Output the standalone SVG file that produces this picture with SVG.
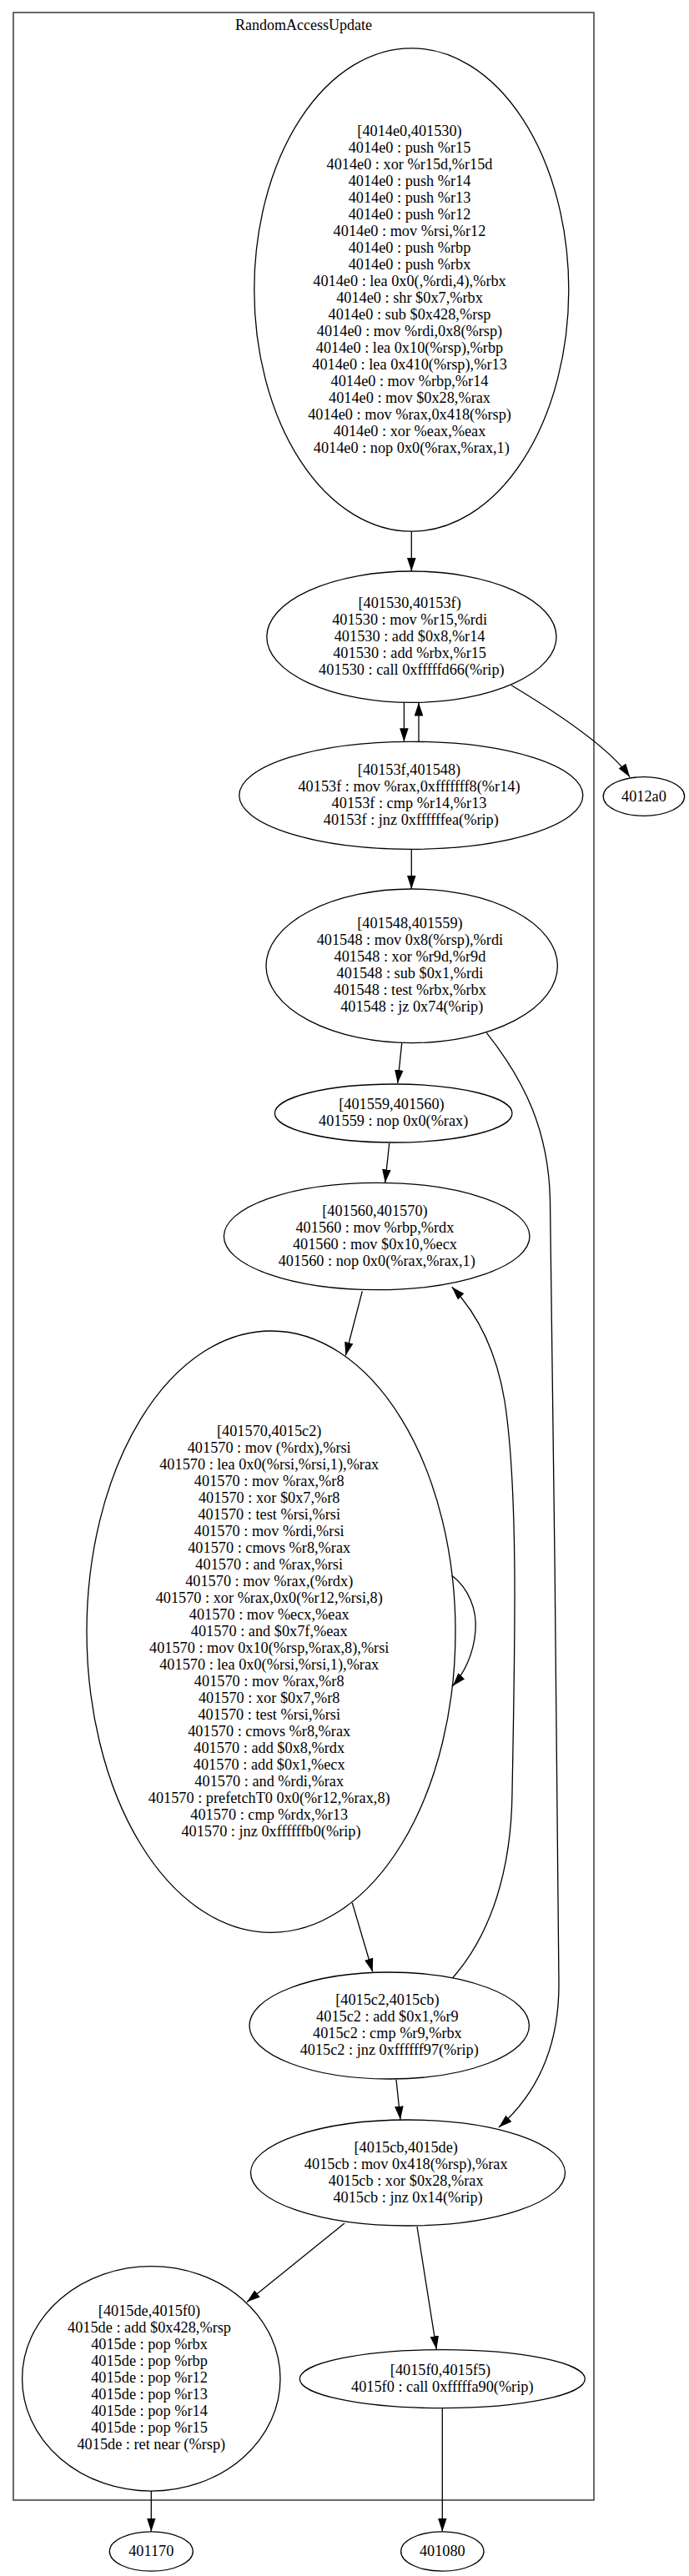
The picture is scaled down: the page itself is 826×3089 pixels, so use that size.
<svg xmlns="http://www.w3.org/2000/svg" width="826" height="3089" viewBox="0 0 826 3089">
<style>
.n ellipse{fill:none;stroke:#000;stroke-width:1.3}
.t{font-family:"Liberation Serif","Times New Roman",serif;font-size:18.3px;text-anchor:middle;fill:#000}
.e path{fill:none;stroke:#000;stroke-width:1.3}
</style>
<defs>
<marker id="ah" viewBox="0 0 16 10.6" refX="16" refY="5.3" markerWidth="16" markerHeight="10.6" markerUnits="userSpaceOnUse" orient="auto">
<path d="M0,0 L16,5.3 L0,10.6 z" fill="#000"/>
</marker>
</defs>
<rect width="826" height="3089" fill="#fff"/>
<g id="cluster_RandomAccessUpdate">
<rect x="16" y="15" width="696" height="2983" fill="none" stroke="#444" stroke-width="1.6"/>
<text class="t" x="364" y="36" style="font-size:18px">RandomAccessUpdate</text>
</g>
<g id="edges" class="e">
<path d="M493.3,637.3 L493.3,685" marker-end="url(#ah)"/>
<path d="M484.4,842.3 L484.4,889.3" marker-end="url(#ah)"/>
<path d="M502,889.3 L502,842.5" marker-end="url(#ah)"/>
<path d="M613,821.7 C660,850 730,895 755,931.7" marker-end="url(#ah)"/>
<path d="M493.3,1018.3 L493.3,1066" marker-end="url(#ah)"/>
<path d="M481.7,1251 L476.7,1299" marker-end="url(#ah)"/>
<path d="M466.7,1371 L461.7,1418.3" marker-end="url(#ah)"/>
<path d="M434.3,1548.3 L414.3,1625.5" marker-end="url(#ah)"/>
<path d="M541.7,1889.3 C562,1905 572,1930 570,1955 C568,1985 555,2008 542.7,2021.7" marker-end="url(#ah)"/>
<path d="M422.3,2281.7 L446.7,2364.5" marker-end="url(#ah)"/>
<path d="M542.7,2371.7 C590,2318 613,2240 614,2150 C617,1980 622,1790 605,1680 C595,1620 572,1575 541.7,1543.3" marker-end="url(#ah)"/>
<path d="M583.3,1238.3 C628,1295 658,1355 659.5,1440 C662,1700 670,2150 670,2380 C670,2460 640,2514 598,2551" marker-end="url(#ah)"/>
<path d="M475,2493.7 L480,2541.7" marker-end="url(#ah)"/>
<path d="M413,2666 L296,2760.5" marker-end="url(#ah)"/>
<path d="M500,2670 L523.3,2817.2" marker-end="url(#ah)"/>
<path d="M181.3,2987 L181.3,3035.7" marker-end="url(#ah)"/>
<path d="M530.3,2888 L530.3,3035.7" marker-end="url(#ah)"/>
</g>
<g id="n4014e0" class="n">
<ellipse cx="493.3" cy="347.5" rx="188.5" ry="289.7"/>
<text class="t">
<tspan x="493.3" y="162.5">[4014e0,401530)</tspan>
<tspan x="493.3" y="182.5">4014e0 : push %r15</tspan>
<tspan x="493.3" y="202.5">4014e0 : xor %r15d,%r15d</tspan>
<tspan x="493.3" y="222.5">4014e0 : push %r14</tspan>
<tspan x="493.3" y="242.5">4014e0 : push %r13</tspan>
<tspan x="493.3" y="262.5">4014e0 : push %r12</tspan>
<tspan x="493.3" y="282.5">4014e0 : mov %rsi,%r12</tspan>
<tspan x="493.3" y="302.5">4014e0 : push %rbp</tspan>
<tspan x="493.3" y="322.5">4014e0 : push %rbx</tspan>
<tspan x="493.3" y="342.5">4014e0 : lea 0x0(,%rdi,4),%rbx</tspan>
<tspan x="493.3" y="362.5">4014e0 : shr $0x7,%rbx</tspan>
<tspan x="493.3" y="382.5">4014e0 : sub $0x428,%rsp</tspan>
<tspan x="493.3" y="402.5">4014e0 : mov %rdi,0x8(%rsp)</tspan>
<tspan x="493.3" y="422.5">4014e0 : lea 0x10(%rsp),%rbp</tspan>
<tspan x="493.3" y="442.5">4014e0 : lea 0x410(%rsp),%r13</tspan>
<tspan x="493.3" y="462.5">4014e0 : mov %rbp,%r14</tspan>
<tspan x="493.3" y="482.5">4014e0 : mov $0x28,%rax</tspan>
<tspan x="493.3" y="502.5">4014e0 : mov %rax,0x418(%rsp)</tspan>
<tspan x="493.3" y="522.5">4014e0 : xor %eax,%eax</tspan>
<tspan x="493.3" y="542.5">4014e0 : nop 0x0(%rax,%rax,1)</tspan>
</text>
</g>
<g id="n401530" class="n">
<ellipse cx="493.4" cy="763.7" rx="173.6" ry="78.7"/>
<text class="t">
<tspan x="493.4" y="728.7">[401530,40153f)</tspan>
<tspan x="493.4" y="748.7">401530 : mov %r15,%rdi</tspan>
<tspan x="493.4" y="768.7">401530 : add $0x8,%r14</tspan>
<tspan x="493.4" y="788.7">401530 : add %rbx,%r15</tspan>
<tspan x="493.4" y="808.7">401530 : call 0xfffffd66(%rip)</tspan>
</text>
</g>
<g id="n40153f" class="n">
<ellipse cx="492.8" cy="953.8" rx="206" ry="64.5"/>
<text class="t">
<tspan x="492.8" y="928.8">[40153f,401548)</tspan>
<tspan x="492.8" y="948.8">40153f : mov %rax,0xfffffff8(%r14)</tspan>
<tspan x="492.8" y="968.8">40153f : cmp %r14,%r13</tspan>
<tspan x="492.8" y="988.8">40153f : jnz 0xffffffea(%rip)</tspan>
</text>
</g>
<g id="n4012a0" class="n">
<ellipse cx="771.9" cy="955" rx="48.7" ry="23.3"/>
<text class="t" x="771.9" y="960.5">4012a0</text>
</g>
<g id="n401548" class="n">
<ellipse cx="493.7" cy="1158.3" rx="174.7" ry="92.3"/>
<text class="t">
<tspan x="493.7" y="1113.3">[401548,401559)</tspan>
<tspan x="493.7" y="1133.3">401548 : mov 0x8(%rsp),%rdi</tspan>
<tspan x="493.7" y="1153.3">401548 : xor %r9d,%r9d</tspan>
<tspan x="493.7" y="1173.3">401548 : sub $0x1,%rdi</tspan>
<tspan x="493.7" y="1193.3">401548 : test %rbx,%rbx</tspan>
<tspan x="493.7" y="1213.3">401548 : jz 0x74(%rip)</tspan>
</text>
</g>
<g id="n401559" class="n">
<ellipse cx="471.7" cy="1335" rx="142.3" ry="35"/>
<text class="t">
<tspan x="471.7" y="1330">[401559,401560)</tspan>
<tspan x="471.7" y="1350">401559 : nop 0x0(%rax)</tspan>
</text>
</g>
<g id="n401560" class="n">
<ellipse cx="451.7" cy="1482.5" rx="183.3" ry="64.2"/>
<text class="t">
<tspan x="451.7" y="1457.5">[401560,401570)</tspan>
<tspan x="451.7" y="1477.5">401560 : mov %rbp,%rdx</tspan>
<tspan x="451.7" y="1497.5">401560 : mov $0x10,%ecx</tspan>
<tspan x="451.7" y="1517.5">401560 : nop 0x0(%rax,%rax,1)</tspan>
</text>
</g>
<g id="n401570" class="n">
<ellipse cx="325" cy="1956.7" rx="221" ry="360.7"/>
<text class="t">
<tspan x="325" y="1721.7">[401570,4015c2)</tspan>
<tspan x="325" y="1741.7">401570 : mov (%rdx),%rsi</tspan>
<tspan x="325" y="1761.7">401570 : lea 0x0(%rsi,%rsi,1),%rax</tspan>
<tspan x="325" y="1781.7">401570 : mov %rax,%r8</tspan>
<tspan x="325" y="1801.7">401570 : xor $0x7,%r8</tspan>
<tspan x="325" y="1821.7">401570 : test %rsi,%rsi</tspan>
<tspan x="325" y="1841.7">401570 : mov %rdi,%rsi</tspan>
<tspan x="325" y="1861.7">401570 : cmovs %r8,%rax</tspan>
<tspan x="325" y="1881.7">401570 : and %rax,%rsi</tspan>
<tspan x="325" y="1901.7">401570 : mov %rax,(%rdx)</tspan>
<tspan x="325" y="1921.7">401570 : xor %rax,0x0(%r12,%rsi,8)</tspan>
<tspan x="325" y="1941.7">401570 : mov %ecx,%eax</tspan>
<tspan x="325" y="1961.7">401570 : and $0x7f,%eax</tspan>
<tspan x="325" y="1981.7">401570 : mov 0x10(%rsp,%rax,8),%rsi</tspan>
<tspan x="325" y="2001.7">401570 : lea 0x0(%rsi,%rsi,1),%rax</tspan>
<tspan x="325" y="2021.7">401570 : mov %rax,%r8</tspan>
<tspan x="325" y="2041.7">401570 : xor $0x7,%r8</tspan>
<tspan x="325" y="2061.7">401570 : test %rsi,%rsi</tspan>
<tspan x="325" y="2081.7">401570 : cmovs %r8,%rax</tspan>
<tspan x="325" y="2101.7">401570 : add $0x8,%rdx</tspan>
<tspan x="325" y="2121.7">401570 : add $0x1,%ecx</tspan>
<tspan x="325" y="2141.7">401570 : and %rdi,%rax</tspan>
<tspan x="325" y="2161.7">401570 : prefetchT0 0x0(%r12,%rax,8)</tspan>
<tspan x="325" y="2181.7">401570 : cmp %rdx,%r13</tspan>
<tspan x="325" y="2201.7">401570 : jnz 0xffffffb0(%rip)</tspan>
</text>
</g>
<g id="n4015c2" class="n">
<ellipse cx="466.7" cy="2429" rx="167.7" ry="64"/>
<text class="t">
<tspan x="466.7" y="2404">[4015c2,4015cb)</tspan>
<tspan x="466.7" y="2424">4015c2 : add $0x1,%r9</tspan>
<tspan x="466.7" y="2444">4015c2 : cmp %r9,%rbx</tspan>
<tspan x="466.7" y="2464">4015c2 : jnz 0xffffff97(%rip)</tspan>
</text>
</g>
<g id="n4015cb" class="n">
<ellipse cx="489" cy="2605.5" rx="188.5" ry="63.5"/>
<text class="t">
<tspan x="489" y="2580.5">[4015cb,4015de)</tspan>
<tspan x="489" y="2600.5">4015cb : mov 0x418(%rsp),%rax</tspan>
<tspan x="489" y="2620.5">4015cb : xor $0x28,%rax</tspan>
<tspan x="489" y="2640.5">4015cb : jnz 0x14(%rip)</tspan>
</text>
</g>
<g id="n4015de" class="n">
<ellipse cx="181.3" cy="2852.4" rx="154.7" ry="134.7"/>
<text class="t">
<tspan x="181.3" y="2777.4">[4015de,4015f0)</tspan>
<tspan x="181.3" y="2797.4">4015de : add $0x428,%rsp</tspan>
<tspan x="181.3" y="2817.4">4015de : pop %rbx</tspan>
<tspan x="181.3" y="2837.4">4015de : pop %rbp</tspan>
<tspan x="181.3" y="2857.4">4015de : pop %r12</tspan>
<tspan x="181.3" y="2877.4">4015de : pop %r13</tspan>
<tspan x="181.3" y="2897.4">4015de : pop %r14</tspan>
<tspan x="181.3" y="2917.4">4015de : pop %r15</tspan>
<tspan x="181.3" y="2937.4">4015de : ret near (%rsp)</tspan>
</text>
</g>
<g id="n4015f0" class="n">
<ellipse cx="530.3" cy="2852.7" rx="171" ry="35"/>
<text class="t">
<tspan x="530.3" y="2847.7">[4015f0,4015f5)</tspan>
<tspan x="530.3" y="2867.7">4015f0 : call 0xfffffa90(%rip)</tspan>
</text>
</g>
<g id="n401170" class="n">
<ellipse cx="181.3" cy="3059.5" rx="50" ry="23.7"/>
<text class="t" x="181.3" y="3065">401170</text>
</g>
<g id="n401080" class="n">
<ellipse cx="530.3" cy="3059.5" rx="49.7" ry="23.7"/>
<text class="t" x="530.3" y="3065">401080</text>
</g>
</svg>
